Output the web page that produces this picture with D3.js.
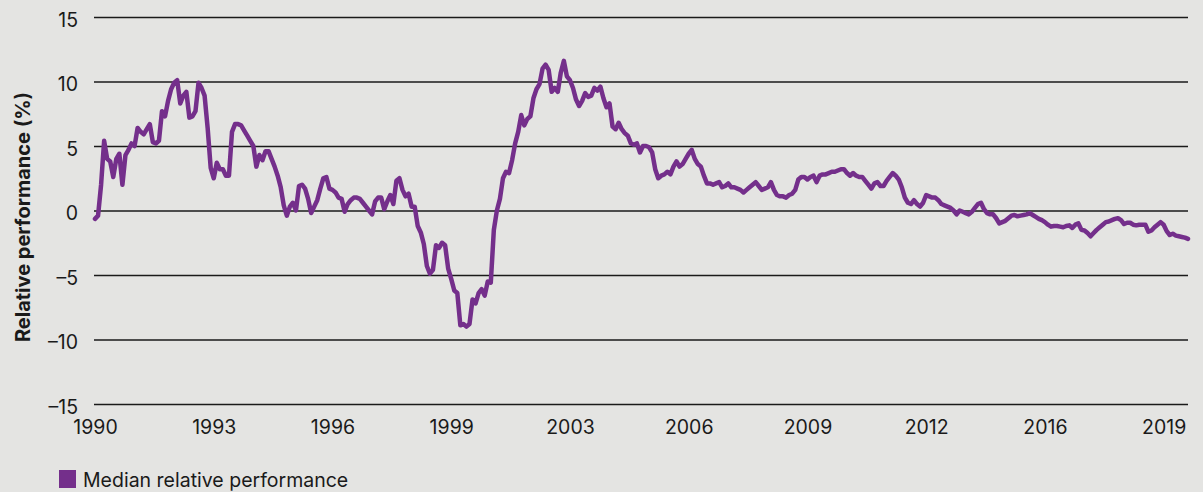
<!DOCTYPE html>
<html>
<head>
<meta charset="utf-8">
<script src="https://cdn.jsdelivr.net/npm/d3@7"></script>
<style>
  body { margin: 0; background: #e4e4e2; }
  text { font-family: Inter, "Liberation Sans", Arial, sans-serif; fill: #1a1a1a; }
</style>
</head>
<body>
<div id="chart"></div>
<script>
// monthly median relative performance (%), Jan 1990 .. Dec 2019, one row per year
var values = [
  -0.65, -0.4, 2.0, 5.4, 4.0, 3.8, 2.6, 4.0, 4.4, 2.0, 4.3, 4.7,
  5.2, 5.0, 6.4, 6.1, 5.9, 6.3, 6.7, 5.3, 5.2, 5.4, 7.7, 7.3,
  8.5, 9.4, 9.9, 10.1, 8.3, 8.9, 9.2, 7.2, 7.3, 7.7, 9.9, 9.5,
  8.9, 6.4, 3.3, 2.5, 3.7, 3.2, 3.2, 2.7, 2.7, 6.1, 6.7, 6.7,
  6.6, 6.2, 5.8, 5.4, 5.0, 3.4, 4.3, 3.9, 4.6, 4.6, 4.0, 3.4,
  2.7, 1.8, 0.4, -0.4, 0.3, 0.6, 0.0, 1.9, 2.0, 1.7, 0.9, -0.2,
  0.3, 0.8, 1.7, 2.5, 2.6, 1.7, 1.6, 1.4, 1.0, 0.9, -0.1, 0.5,
  0.8, 1.0, 1.0, 0.9, 0.6, 0.3, 0.0, -0.3, 0.7, 1.0, 1.0, 0.1,
  0.7, 1.2, 0.5, 2.3, 2.5, 1.6, 1.1, 1.3, 0.3, 0.3, -1.2, -1.7,
  -2.6, -4.3, -4.9, -4.6, -2.7, -2.9, -2.5, -2.7, -4.5, -5.3, -6.2, -6.4,
  -8.9, -8.8, -9.0, -8.8, -6.9, -7.2, -6.4, -6.1, -6.6, -5.5, -5.6, -1.5,
  0.0, 0.9, 2.5, 3.0, 2.9, 3.9, 5.2, 6.1, 7.4, 6.6, 7.1, 7.3,
  8.7, 9.4, 9.8, 11.0, 11.3, 10.9, 9.2, 9.5, 9.2, 10.7, 11.6, 10.4,
  10.1, 9.5, 8.6, 8.1, 8.5, 9.1, 8.8, 8.9, 9.5, 9.3, 9.6, 8.7,
  8.0, 8.3, 6.5, 6.3, 6.8, 6.3, 6.0, 5.8, 5.2, 5.1, 5.2, 4.5,
  5.0, 5.0, 4.9, 4.5, 3.2, 2.5, 2.7, 2.8, 3.0, 2.8, 3.4, 3.8,
  3.4, 3.6, 4.0, 4.4, 4.7, 4.0, 3.6, 3.4, 2.7, 2.1, 2.1, 2.0,
  2.1, 2.2, 1.8, 1.9, 2.1, 1.8, 1.8, 1.7, 1.6, 1.4, 1.6, 1.8,
  2.0, 2.2, 1.9, 1.6, 1.7, 1.8, 2.2, 1.6, 1.2, 1.1, 1.1, 1.0,
  1.2, 1.3, 1.6, 2.4, 2.6, 2.6, 2.4, 2.6, 2.7, 2.2, 2.7, 2.8,
  2.8, 2.9, 3.0, 3.0, 3.1, 3.2, 3.2, 2.9, 2.7, 2.9, 2.7, 2.6,
  2.6, 2.3, 2.0, 1.7, 2.1, 2.2, 1.9, 1.9, 2.3, 2.6, 2.9, 2.7,
  2.4, 1.8, 1.0, 0.6, 0.5, 0.8, 0.5, 0.3, 0.6, 1.2, 1.1, 1.0,
  1.0, 0.8, 0.5, 0.4, 0.3, 0.2, 0.0, -0.3, 0.0, -0.1, -0.2, -0.3,
  -0.1, 0.2, 0.5, 0.6, 0.1, -0.2, -0.3, -0.3, -0.6, -1.0, -0.9, -0.8,
  -0.6, -0.4, -0.35, -0.45, -0.4, -0.35, -0.3, -0.2, -0.35, -0.5, -0.65, -0.75,
  -0.9, -1.1, -1.25, -1.2, -1.2, -1.25, -1.3, -1.2, -1.15, -1.35, -1.1, -1.0,
  -1.5, -1.55, -1.75, -2.0, -1.75, -1.5, -1.3, -1.1, -0.9, -0.85, -0.75, -0.65,
  -0.6, -0.75, -1.05, -0.95, -0.95, -1.1, -1.15, -1.1, -1.1, -1.1, -1.65, -1.55,
  -1.3, -1.1, -0.9, -1.1, -1.6, -1.9, -1.8, -1.95, -2.0, -2.05, -2.1, -2.2
]

var tickLabels = ["1990", "1993", "1996", "1999", "2003", "2006", "2009", "2012", "2016", "2019"]
var tickStep = 39   // months between labelled ticks
var yTicks = [15, 10, 5, 0, -5, -10, -15]
var seriesName = "Median relative performance"
var yTitle = "Relative performance (%)"

var width = 1203, height = 492
var purple = "#742f8b"

var svg = d3.select("#chart").append("svg")
    .attr("width", width)
    .attr("height", height)

svg.append("rect")
    .attr("width", width)
    .attr("height", height)
    .attr("fill", "#e4e4e2")

var x = d3.scaleLinear().domain([0, values.length - 1]).range([95, 1188])
var y = d3.scaleLinear().domain([-15, 15]).range([404, 17])

// gridlines + y labels
var yAxis = svg.append("g")
    .attr("class", "y axis")
    .attr("transform", "translate(94,0)")
    .call(d3.axisLeft(y)
        .tickValues(yTicks)
        .tickSize(-(1188 - 94))
        .tickPadding(16)
        .tickFormat(function(d){ return d < 0 ? "\u2013" + Math.abs(d) : d }))

yAxis.select(".domain").remove()
yAxis.selectAll(".tick line")
    .attr("stroke", "#1a1a1a")
    .attr("stroke-width", 1.6)
yAxis.selectAll(".tick text")
    .attr("font-size", "19.5px")
    .attr("dy", "0.48em")
    .style("fill", "#1a1a1a")

// x labels only, no tick marks
var xAxis = svg.append("g")
    .attr("class", "x axis")
    .attr("transform", "translate(0,404)")
    .call(d3.axisBottom(x)
        .tickValues(tickLabels.map(function(d, k){ return k * tickStep }))
        .tickSize(0)
        .tickPadding(16)
        .tickFormat(function(d, k){ return tickLabels[k] }))

xAxis.select(".domain").remove()
xAxis.selectAll(".tick text")
    .attr("font-size", "19.5px")
    .style("fill", "#1a1a1a")

svg.append("text")
    .attr("transform", "translate(23,217) rotate(-90)")
    .attr("text-anchor", "middle")
    .attr("dy", "0.35em")
    .attr("font-size", "20px")
    .attr("font-weight", "bold")
    .text(yTitle)

var line = d3.line()
    .x(function(d, i){ return x(i) })
    .y(function(d){ return y(d) })

svg.append("path")
    .datum(values)
    .attr("fill", "none")
    .attr("stroke", purple)
    .attr("stroke-width", 4.5)
    .attr("stroke-linejoin", "round")
    .attr("stroke-linecap", "round")
    .attr("d", line)

// legend
var legend = svg.append("g").attr("transform", "translate(59,470)")
legend.append("rect")
    .attr("width", 17)
    .attr("height", 18)
    .attr("fill", purple)
legend.append("text")
    .attr("x", 24)
    .attr("y", 17)
    .attr("font-size", "19.5px")
    .text(seriesName)
</script>
</body>
</html>
